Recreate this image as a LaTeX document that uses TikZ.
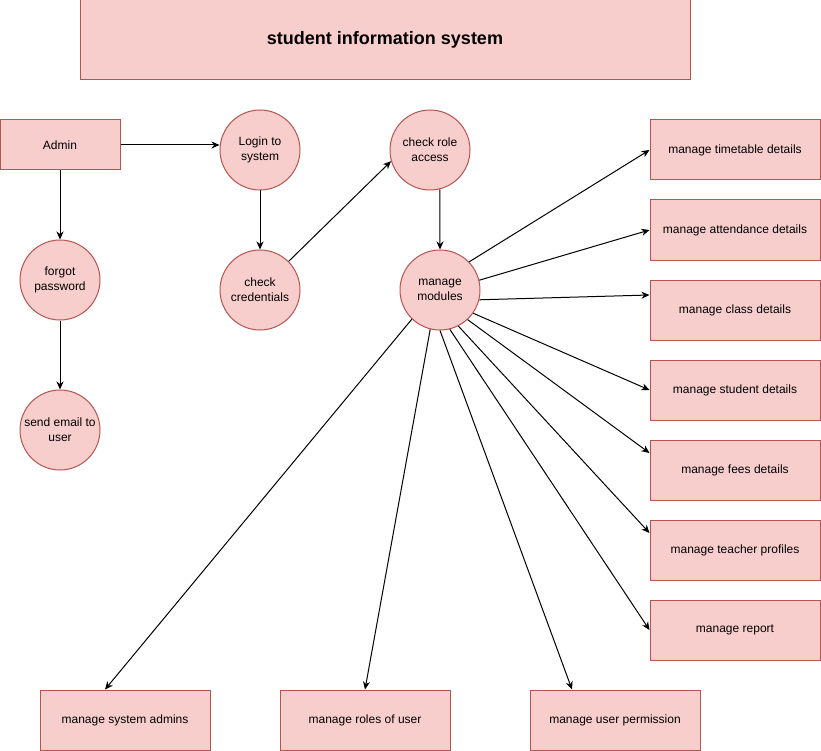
\documentclass[tikz,border=0pt]{standalone}
\usepackage{fontspec}
\setmainfont{Liberation Sans}
\usetikzlibrary{arrows.meta, shapes, positioning}
\definecolor{boxfill}{HTML}{F8CECC}
\definecolor{boxline}{HTML}{B85450}

\begin{document}
\begin{tikzpicture}[x=1pt, y=-1pt,
        every node/.style={font=\fontsize{12}{15}\selectfont, align=center, text=black},
        proc/.style={circle, draw=boxline, fill=boxfill, line width=1pt, minimum size=80pt, inner sep=0pt},
        ent/.style={rectangle, draw=boxline, fill=boxfill, line width=1pt, minimum width=170pt, minimum height=60pt, inner sep=0pt},
        flow/.style={draw=black, line width=1pt, -{Stealth[length=8pt, width=7pt, inset=2.5pt]}}]
            \useasboundingbox (0,0) rectangle (821,751);
            \node[rectangle, draw=boxline, fill=boxfill, line width=1pt, minimum width=610pt, minimum height=80pt,
                  font=\fontsize{18}{21}\selectfont\bfseries] (title) at (385,40) {student information system};
            \node[ent, minimum width=120pt, minimum height=50pt] (admin) at (60,145) {Admin};
            \node[proc] (login) at (260,150) {Login to\\system};
            \node[proc] (checkrole) at (430,150) {check role\\access};
            \node[proc] (forgot) at (60,280) {forgot\\password};
            \node[proc] (checkcred) at (260,290) {check\\credentials};
            \node[proc] (modules) at (440,290) {manage\\modules};
            \node[proc] (sendmail) at (60,430) {send email to\\user};
            \node[ent] (timetable) at (735,150) {manage timetable details};
            \node[ent] (attendance) at (735,230) {manage attendance details};
            \node[ent] (class) at (735,310) {manage class details};
            \node[ent] (student) at (735,390) {manage student details};
            \node[ent] (fees) at (735,470) {manage fees details};
            \node[ent] (teacher) at (735,550) {manage teacher profiles};
            \node[ent] (report) at (735,630) {manage report};
            \node[ent] (sysadmins) at (125,720) {manage system admins};
            \node[ent] (roles) at (365,720) {manage roles of user};
            \node[ent] (permission) at (615,720) {manage user permission};

            \draw[flow] (admin.east) -- (admin.east -| login.west);
            \draw[flow] (admin.south) -- (forgot.north);
            \draw[flow] (forgot.south) -- (sendmail.north);
            \draw[flow] (login.south) -- (checkcred.north);
            \draw[flow] (checkcred.45) -- (checkrole.196);
            \draw[flow] (checkrole.-76) -- (modules.north);

            \draw[flow] (modules.44) -- (timetable.west);
            \draw[flow] (modules.14) -- (attendance.west);
            \draw[flow] (modules.-14) -- ([yshift=15pt]class.west);
            \draw[flow] (modules.-35) -- (student.west);
            \draw[flow] (modules.-47) -- ([yshift=17pt]fees.west);
            \draw[flow] (modules.-63) -- ([yshift=17pt]teacher.west);
            \draw[flow] (modules.-76) -- (report.west);
            \draw[flow] (modules.-134) -- ([xshift=-20pt]sysadmins.north);
            \draw[flow] (modules.-104) -- (roles.north);
            \draw[flow] (modules.-90) -- ([xshift=-43pt]permission.north);
        \end{tikzpicture}
\end{document}
